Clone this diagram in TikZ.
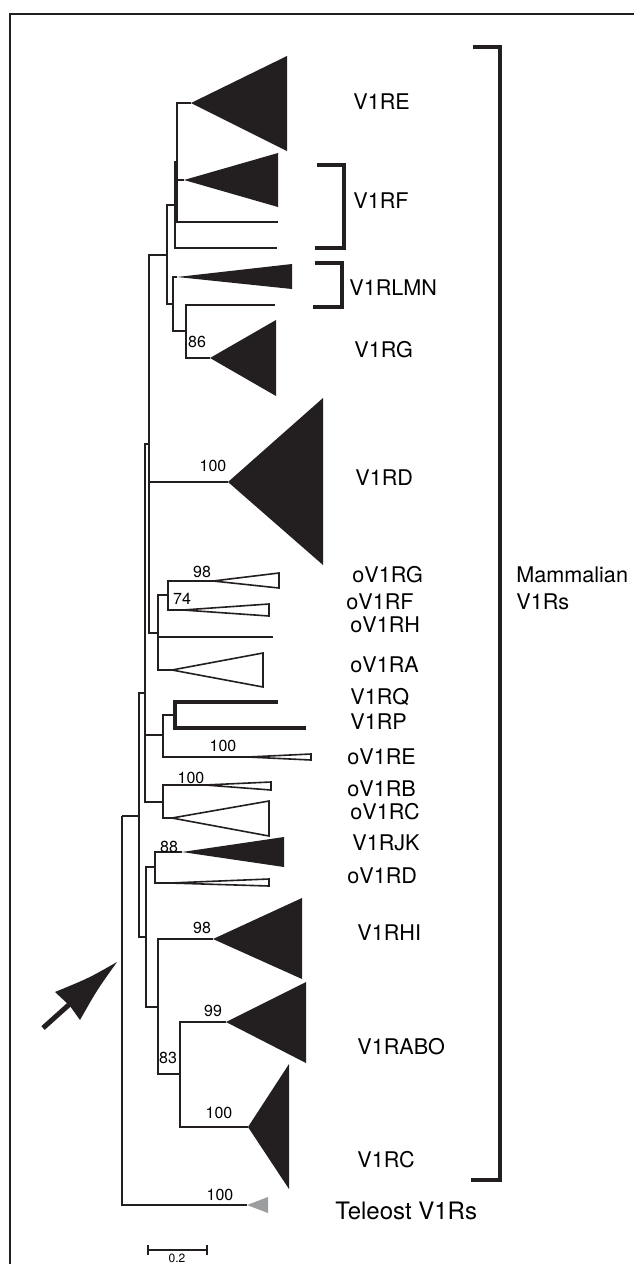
\documentclass[tikz,border=0pt]{standalone}
\usepackage{fontspec}
\setmainfont{TeX Gyre Heros}
\definecolor{ink}{RGB}{35,31,32}
\definecolor{telgray}{RGB}{156,157,161}

\begin{document}
\begin{tikzpicture}[x=0.5pt, y=-0.5pt,
		br/.style={draw=ink, line width=0.7pt},
		clade/.style={fill=ink},
		hollow/.style={draw=ink, line width=0.8pt, fill=white},
		brk/.style={draw=ink, line width=2pt},
		lbl/.style={anchor=west, inner sep=0pt, font=\fontsize{10.8}{13}\selectfont},
		bs/.style={inner sep=0pt, font=\fontsize{8}{9}\selectfont}]
			
			\useasboundingbox (0,0) rectangle (634,1264);
			
			% Frame
			\draw[ink, line width=1pt] (10,1264) -- (10,14) -- (634,14);
			
			% Internal nodes
			\coordinate (L) at (122,816);
			\coordinate (K) at (139,816);
			\coordinate (G) at (145,693);
			\coordinate (D) at (149,444);
			\coordinate (U) at (167,255);
			\coordinate (A) at (175,205);
			\coordinate (B) at (177,162);
			\coordinate (W) at (173,304);
			\coordinate (C) at (186,331);
			\coordinate (E) at (158,633);
			\coordinate (F) at (168,595);
			\coordinate (I) at (163,735);
			\coordinate (T) at (175,715);
			\coordinate (J) at (163,802);
			\coordinate (N) at (146,937);
			\coordinate (M) at (155,867);
			\coordinate (O) at (158,1007);
			\coordinate (P) at (180,1074);
			
			% Clade apices and leaf tips
			\coordinate (aRE) at (191,103);
			\coordinate (aRF) at (184,180);
			\coordinate (tF1) at (278,222);
			\coordinate (tF2) at (277,248);
			\coordinate (aLMN) at (177,277);
			\coordinate (tG) at (275,305);
			\coordinate (aRG) at (210,358);
			\coordinate (aRD) at (228,482);
			\coordinate (aoG) at (213,581);
			\coordinate (aoF) at (183,610);
			\coordinate (toH) at (273,637);
			\coordinate (aoA) at (172,670);
			\coordinate (tQ) at (278,702);
			\coordinate (tP) at (306,728);
			\coordinate (aoE) at (248,757);
			\coordinate (aoB) at (205,785);
			\coordinate (aoC) at (172,818);
			\coordinate (aJK) at (182,852);
			\coordinate (aoD) at (170,883);
			\coordinate (aHI) at (213,939);
			\coordinate (aABO) at (226,1022);
			\coordinate (aRC) at (248,1127);
			\coordinate (aTel) at (247,1205);
			
			% Branches
			\draw[br] (L) |- (K) (L) |- (aTel);
			\draw[br] (K) |- (G) (K) |- (N);
			\draw[br] (G) |- (D) (G) |- (I) (G) |- (J);
			\draw[br] (D) |- (U) (D) |- (aRD) (D) |- (E);
			\draw[br] (U) |- (A) (U) |- (W);
			\draw[br] (A) |- (B) (A) |- (tF2);
			\draw[br] (B) |- (aRE) (B) |- (aRF) (B) |- (tF1);
			\draw[br] (W) |- (aLMN) (W) |- (C);
			\draw[br] (C) |- (tG) (C) |- (aRG);
			\draw[br] (E) |- (F) (E) |- (toH) (E) |- (aoA);
			\draw[br] (F) |- (aoG) (F) |- (aoF);
			\draw[br] (I) |- (T) (I) |- (aoE);
			\draw[br] (J) |- (aoB) (J) |- (aoC);
			\draw[br] (N) |- (M) (N) |- (O);
			\draw[br] (M) |- (aJK) (M) |- (aoD);
			\draw[br] (O) |- (aHI) (O) |- (P);
			\draw[br] (P) |- (aABO) (P) |- (aRC);
			% V1RQ and V1RP
			\draw[ink, line width=2pt] (tQ) -| (T) |- (tP);
			
			% Collapsed clades
			\fill[clade] (aRE) -- (287,56) -- (287,151) -- cycle;
			\fill[clade] (aRF) -- (278,153) -- (278,207) -- cycle;
			\fill[clade] (aLMN) -- (292,264) -- (292,289) -- cycle;
			\fill[clade] (aRG) -- (276,320) -- (276,396) -- cycle;
			\fill[clade] (aRD) -- (323,398) -- (323,565) -- cycle;
			\draw[hollow] (aoG) -- (279,573) -- (279,588) -- cycle;
			\draw[hollow] (aoF) -- (269,604) -- (269,616) -- cycle;
			\draw[hollow] (aoA) -- (263,653) -- (263,687) -- cycle;
			\draw[hollow] (aoE) -- (311,754) -- (311,760) -- cycle;
			\draw[hollow] (aoB) -- (271,782) -- (271,790) -- cycle;
			\draw[hollow] (aoC) -- (269,801) -- (269,836) -- cycle;
			\fill[clade] (aJK) -- (284,837) -- (284,867) -- cycle;
			\draw[hollow] (aoD) -- (269,879) -- (269,886) -- cycle;
			\fill[clade] (aHI) -- (302,898) -- (302,979) -- cycle;
			\fill[clade] (aABO) -- (306,982) -- (306,1063) -- cycle;
			\fill[clade] (aRC) -- (289,1064) -- (289,1189) -- cycle;
			\fill[telgray] (aTel) -- (268,1197) -- (268,1213) -- cycle;
			
			% Bootstrap values
			\node[bs] (b86) at (197,342) {86};
			\node[bs] (bRD) at (213,466) {100};
			\node[bs] (boG) at (202,572) {98};
			\node[bs] (boF) at (182,599) {74};
			\node[bs] (boE) at (223,746) {100};
			\node[bs] (boB) at (191,778) {100};
			\node[bs] (bJK) at (169,847) {88};
			\node[bs] (bHI) at (202,928) {98};
			\node[bs] (bABO) at (213,1011) {99};
			\node[bs] (b83) at (168,1058) {83};
			\node[bs] (bRC) at (219,1113) {100};
			\node[bs] (bTel) at (220,1195) {100};
			
			% Clade names
			\node[lbl] (nRE) at (353,102) {V1RE};
			\node[lbl] (nRF) at (353,201) {V1RF};
			\node[lbl] (nLMN) at (349,288) {V1RLMN};
			\node[lbl] (nRG) at (354,350) {V1RG};
			\node[lbl] (nRD) at (355,478) {V1RD};
			\node[lbl] (noG) at (352,575) {oV1RG};
			\node[lbl] (noF) at (346,602) {oV1RF};
			\node[lbl] (noH) at (350,625) {oV1RH};
			\node[lbl] (noA) at (350,665) {oV1RA};
			\node[lbl] (nRQ) at (350,697) {V1RQ};
			\node[lbl] (nRP) at (350,722) {V1RP};
			\node[lbl] (noE) at (347,757) {oV1RE};
			\node[lbl] (noB) at (347,789) {oV1RB};
			\node[lbl] (noC) at (350,812) {oV1RC};
			\node[lbl] (nJK) at (352,843) {V1RJK};
			\node[lbl] (noD) at (347,876) {oV1RD};
			\node[lbl] (nHI) at (357,933) {V1RHI};
			\node[lbl] (nABO) at (357,1047) {V1RABO};
			\node[lbl] (nRC) at (357,1160) {V1RC};
			\node[lbl, font=\fontsize{12}{14}\selectfont] (nTel) at (335,1211) {Teleost V1Rs};
			\node[lbl] (nMam) at (516,575) {Mammalian};
			\node[lbl] (nMam2) at (516,602) {V1Rs};
			
			% Brackets
			\draw[brk] (473,47) -- (500,47) -- (500,1180) -- (471,1180);
			\draw[brk] (317,165) -- (344,165) -- (344,248) -- (315,248);
			\draw[brk] (315,263) -- (342,263) -- (342,307) -- (313,307);
			
			% Arrow to the root
			\coordinate (arTip) at (117,962);
			\coordinate (arTail) at (43,1028);
			\draw[ink, line width=2.5pt] (arTail) -- (72,1002);
			\fill[ink] (arTip) .. controls (89,978) .. (55,992) -- (70,1006) -- (80,1020) .. controls (97,990) .. (arTip) -- cycle;
			
			% Scale bar
			\draw[ink, line width=1pt] (148,1250) -- (207,1250) (148,1245) -- (148,1255) (207,1245) -- (207,1255);
			\node[bs, font=\fontsize{6}{7}\selectfont] (sc) at (177,1258) {0.2};
			
		\end{tikzpicture}
\end{document}
